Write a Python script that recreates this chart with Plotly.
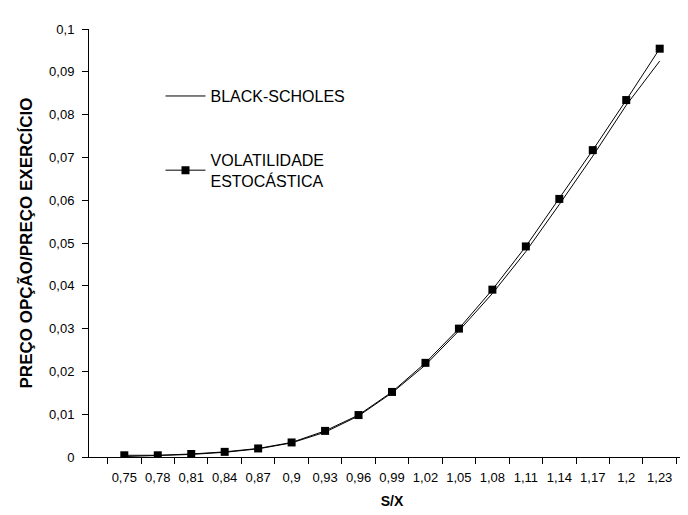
import plotly.graph_objects as go

categories = ["0,75", "0,78", "0,81", "0,84", "0,87", "0,9", "0,93", "0,96", "0,99",
              "1,02", "1,05", "1,08", "1,11", "1,14", "1,17", "1,2", "1,23"]
black_scholes = [0.0001, 0.0003, 0.0006, 0.0011, 0.0019, 0.0033, 0.0058, 0.0096, 0.0150,
                 0.0215, 0.0295, 0.0382, 0.0480, 0.0590, 0.0703, 0.0822, 0.0925]
vol_estocastica = [0.0004, 0.0004, 0.0007, 0.0012, 0.0020, 0.0034, 0.0061, 0.0098, 0.0152,
                   0.0220, 0.0300, 0.0391, 0.0492, 0.0603, 0.0717, 0.0834, 0.0954]

font_main = "Liberation Sans, Arial, sans-serif"

fig = go.Figure()
fig.add_trace(go.Scatter(x=categories, y=black_scholes, mode="lines", name="BLACK-SCHOLES",
                         line=dict(color="black", width=1), legendgroup="a"))
fig.add_trace(go.Scatter(x=categories, y=vol_estocastica, mode="lines+markers",
                         name="VOLATILIDADE<br>ESTOCÁSTICA",
                         line=dict(color="black", width=1),
                         marker=dict(symbol="square", size=8, color="black"),
                         legendgroup="b"))

fig.update_layout(
    width=688, height=515,
    margin=dict(l=81, r=1, t=21, b=66),
    paper_bgcolor="white", plot_bgcolor="white",
    separators=",.",
    font=dict(family=font_main, color="black", size=12),
    showlegend=True,
    legend=dict(x=0.118, y=0.883, xanchor="left", yanchor="top",
                bgcolor="rgba(0,0,0,0)", font=dict(size=16, family=font_main),
                tracegroupgap=40, itemwidth=40),
    xaxis=dict(type="category", showline=True, linecolor="black", linewidth=1,
               ticks="outside", tickson="boundaries", ticklen=6, tickcolor="black",
               showgrid=False, zeroline=False, tickfont=dict(size=13), tickangle=0,
               ticklabelstandoff=8,
               title=dict(text="<b>S/X</b>", font=dict(size=14, family=font_main), standoff=12)),
    yaxis=dict(range=[0, 0.1], dtick=0.01, showline=True, linecolor="black", linewidth=1,
               ticks="outside", ticklen=6, tickcolor="black", showgrid=False, zeroline=False,
               tickfont=dict(size=13), ticklabelstandoff=5,
               title=dict(text="<b>PREÇO OPÇÃO/PREÇO EXERCÍCIO</b>",
                          font=dict(size=17, family=font_main), standoff=12)),
)

fig.write_html("out.html")
